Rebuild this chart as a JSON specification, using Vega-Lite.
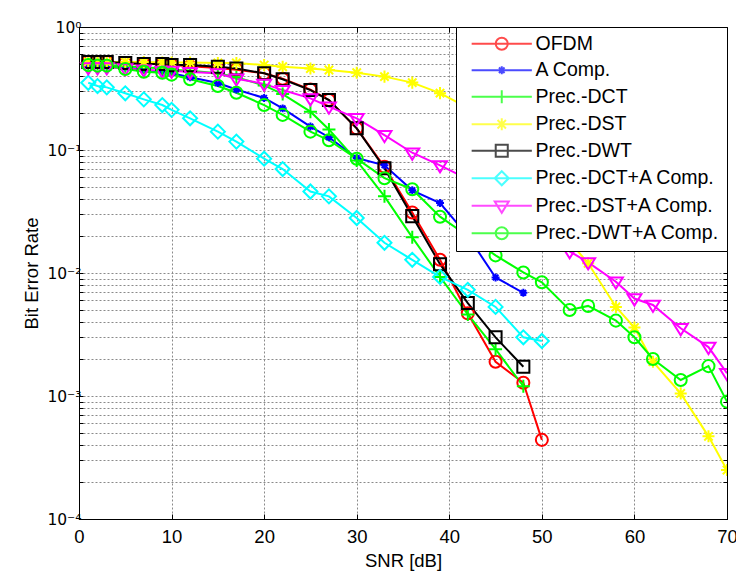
{
  "$schema": "https://vega.github.io/schema/vega-lite/v6.json",
  "width": 648,
  "height": 492,
  "autosize": {"type": "none"},
  "padding": {"left": 79, "top": 27, "right": 9, "bottom": 53},
  "background": "white",
  "config": {
    "view": {"stroke": "black", "strokeWidth": 1},
    "font": "Liberation Sans",
    "axis": {
      "domainColor": "black",
      "tickColor": "black",
      "labelColor": "black",
      "titleColor": "black",
      "labelFont": "Liberation Sans",
      "titleFont": "Liberation Sans",
      "labelFontSize": 18.5,
      "titleFontSize": 18.5,
      "titleFontWeight": "normal",
      "gridDash": [2, 2],
      "gridColor": "#8a8a8a",
      "gridWidth": 1,
      "gridOpacity": 1
    },
    "legend": {
      "orient": "top-right", "offset": 0, "padding": 7,
      "strokeColor": "black", "fillColor": "white",
      "labelFontSize": 19.5, "labelFont": "Liberation Sans", "labelColor": "black", "labelLimit": 400,
      "symbolSize": 196, "symbolStrokeWidth": 2, "symbolOffset": 29, "labelOffset": 24, "rowPadding": 5.5
    }
  },
  "data": {"values": [
    {"series":"OFDM","snr":1,"ber":0.52},{"series":"OFDM","snr":2,"ber":0.52},{"series":"OFDM","snr":3,"ber":0.52},{"series":"OFDM","snr":5,"ber":0.51},{"series":"OFDM","snr":7,"ber":0.50},{"series":"OFDM","snr":9,"ber":0.50},{"series":"OFDM","snr":10,"ber":0.49},{"series":"OFDM","snr":12,"ber":0.48},{"series":"OFDM","snr":15,"ber":0.465},{"series":"OFDM","snr":17,"ber":0.45},{"series":"OFDM","snr":20,"ber":0.42},{"series":"OFDM","snr":22,"ber":0.38},{"series":"OFDM","snr":25,"ber":0.31},{"series":"OFDM","snr":27,"ber":0.255},{"series":"OFDM","snr":30,"ber":0.15},{"series":"OFDM","snr":33,"ber":0.073},{"series":"OFDM","snr":36,"ber":0.031},{"series":"OFDM","snr":39,"ber":0.0128},{"series":"OFDM","snr":42,"ber":0.0047},{"series":"OFDM","snr":45,"ber":0.0019},{"series":"OFDM","snr":48,"ber":0.00128},{"series":"OFDM","snr":50,"ber":0.00044},

    {"series":"A Comp.","snr":1,"ber":0.50},{"series":"A Comp.","snr":2,"ber":0.49},{"series":"A Comp.","snr":3,"ber":0.48},{"series":"A Comp.","snr":5,"ber":0.47},{"series":"A Comp.","snr":7,"ber":0.45},{"series":"A Comp.","snr":9,"ber":0.43},{"series":"A Comp.","snr":10,"ber":0.42},{"series":"A Comp.","snr":12,"ber":0.39},{"series":"A Comp.","snr":15,"ber":0.35},{"series":"A Comp.","snr":17,"ber":0.31},{"series":"A Comp.","snr":20,"ber":0.265},{"series":"A Comp.","snr":22,"ber":0.218},{"series":"A Comp.","snr":25,"ber":0.155},{"series":"A Comp.","snr":27,"ber":0.127},{"series":"A Comp.","snr":30,"ber":0.086},{"series":"A Comp.","snr":33,"ber":0.075},{"series":"A Comp.","snr":36,"ber":0.047},{"series":"A Comp.","snr":39,"ber":0.037},{"series":"A Comp.","snr":42,"ber":0.02},{"series":"A Comp.","snr":45,"ber":0.0092},{"series":"A Comp.","snr":48,"ber":0.0069},

    {"series":"Prec.-DCT","snr":1,"ber":0.50},{"series":"Prec.-DCT","snr":2,"ber":0.50},{"series":"Prec.-DCT","snr":3,"ber":0.49},{"series":"Prec.-DCT","snr":5,"ber":0.48},{"series":"Prec.-DCT","snr":7,"ber":0.47},{"series":"Prec.-DCT","snr":9,"ber":0.46},{"series":"Prec.-DCT","snr":10,"ber":0.45},{"series":"Prec.-DCT","snr":12,"ber":0.44},{"series":"Prec.-DCT","snr":15,"ber":0.42},{"series":"Prec.-DCT","snr":17,"ber":0.39},{"series":"Prec.-DCT","snr":20,"ber":0.335},{"series":"Prec.-DCT","snr":22,"ber":0.285},{"series":"Prec.-DCT","snr":25,"ber":0.205},{"series":"Prec.-DCT","snr":27,"ber":0.147},{"series":"Prec.-DCT","snr":30,"ber":0.082},{"series":"Prec.-DCT","snr":33,"ber":0.042},{"series":"Prec.-DCT","snr":36,"ber":0.0195},{"series":"Prec.-DCT","snr":39,"ber":0.0093},{"series":"Prec.-DCT","snr":42,"ber":0.0046},{"series":"Prec.-DCT","snr":45,"ber":0.0024},{"series":"Prec.-DCT","snr":48,"ber":0.0012},

    {"series":"Prec.-DST","snr":1,"ber":0.52},{"series":"Prec.-DST","snr":2,"ber":0.52},{"series":"Prec.-DST","snr":3,"ber":0.52},{"series":"Prec.-DST","snr":5,"ber":0.52},{"series":"Prec.-DST","snr":7,"ber":0.52},{"series":"Prec.-DST","snr":9,"ber":0.515},{"series":"Prec.-DST","snr":10,"ber":0.515},{"series":"Prec.-DST","snr":12,"ber":0.515},{"series":"Prec.-DST","snr":15,"ber":0.51},{"series":"Prec.-DST","snr":17,"ber":0.51},{"series":"Prec.-DST","snr":20,"ber":0.49},{"series":"Prec.-DST","snr":22,"ber":0.475},{"series":"Prec.-DST","snr":25,"ber":0.46},{"series":"Prec.-DST","snr":27,"ber":0.447},{"series":"Prec.-DST","snr":30,"ber":0.425},{"series":"Prec.-DST","snr":33,"ber":0.395},{"series":"Prec.-DST","snr":36,"ber":0.353},{"series":"Prec.-DST","snr":39,"ber":0.29},{"series":"Prec.-DST","snr":42,"ber":0.22},{"series":"Prec.-DST","snr":45,"ber":0.14},{"series":"Prec.-DST","snr":48,"ber":0.07},{"series":"Prec.-DST","snr":50,"ber":0.042},{"series":"Prec.-DST","snr":53,"ber":0.018},{"series":"Prec.-DST","snr":55,"ber":0.012},{"series":"Prec.-DST","snr":58,"ber":0.0053},{"series":"Prec.-DST","snr":60,"ber":0.0036},{"series":"Prec.-DST","snr":62,"ber":0.0019},{"series":"Prec.-DST","snr":65,"ber":0.00105},{"series":"Prec.-DST","snr":68,"ber":0.00047},{"series":"Prec.-DST","snr":70,"ber":0.00025},

    {"series":"Prec.-DWT","snr":1,"ber":0.52},{"series":"Prec.-DWT","snr":2,"ber":0.52},{"series":"Prec.-DWT","snr":3,"ber":0.52},{"series":"Prec.-DWT","snr":5,"ber":0.51},{"series":"Prec.-DWT","snr":7,"ber":0.50},{"series":"Prec.-DWT","snr":9,"ber":0.50},{"series":"Prec.-DWT","snr":10,"ber":0.49},{"series":"Prec.-DWT","snr":12,"ber":0.49},{"series":"Prec.-DWT","snr":15,"ber":0.475},{"series":"Prec.-DWT","snr":17,"ber":0.46},{"series":"Prec.-DWT","snr":20,"ber":0.42},{"series":"Prec.-DWT","snr":22,"ber":0.376},{"series":"Prec.-DWT","snr":25,"ber":0.307},{"series":"Prec.-DWT","snr":27,"ber":0.255},{"series":"Prec.-DWT","snr":30,"ber":0.15},{"series":"Prec.-DWT","snr":33,"ber":0.071},{"series":"Prec.-DWT","snr":36,"ber":0.029},{"series":"Prec.-DWT","snr":39,"ber":0.0118},{"series":"Prec.-DWT","snr":42,"ber":0.0057},{"series":"Prec.-DWT","snr":45,"ber":0.0030},{"series":"Prec.-DWT","snr":48,"ber":0.00173},

    {"series":"Prec.-DCT+A Comp.","snr":1,"ber":0.352},{"series":"Prec.-DCT+A Comp.","snr":2,"ber":0.331},{"series":"Prec.-DCT+A Comp.","snr":3,"ber":0.323},{"series":"Prec.-DCT+A Comp.","snr":5,"ber":0.289},{"series":"Prec.-DCT+A Comp.","snr":7,"ber":0.258},{"series":"Prec.-DCT+A Comp.","snr":9,"ber":0.232},{"series":"Prec.-DCT+A Comp.","snr":10,"ber":0.212},{"series":"Prec.-DCT+A Comp.","snr":12,"ber":0.181},{"series":"Prec.-DCT+A Comp.","snr":15,"ber":0.141},{"series":"Prec.-DCT+A Comp.","snr":17,"ber":0.117},{"series":"Prec.-DCT+A Comp.","snr":20,"ber":0.085},{"series":"Prec.-DCT+A Comp.","snr":22,"ber":0.070},{"series":"Prec.-DCT+A Comp.","snr":25,"ber":0.046},{"series":"Prec.-DCT+A Comp.","snr":27,"ber":0.042},{"series":"Prec.-DCT+A Comp.","snr":30,"ber":0.028},{"series":"Prec.-DCT+A Comp.","snr":33,"ber":0.0176},{"series":"Prec.-DCT+A Comp.","snr":36,"ber":0.0128},{"series":"Prec.-DCT+A Comp.","snr":39,"ber":0.0093},{"series":"Prec.-DCT+A Comp.","snr":42,"ber":0.0073},{"series":"Prec.-DCT+A Comp.","snr":45,"ber":0.0053},{"series":"Prec.-DCT+A Comp.","snr":48,"ber":0.0030},{"series":"Prec.-DCT+A Comp.","snr":50,"ber":0.0028},

    {"series":"Prec.-DST+A Comp.","snr":1,"ber":0.47},{"series":"Prec.-DST+A Comp.","snr":2,"ber":0.47},{"series":"Prec.-DST+A Comp.","snr":3,"ber":0.47},{"series":"Prec.-DST+A Comp.","snr":5,"ber":0.46},{"series":"Prec.-DST+A Comp.","snr":7,"ber":0.45},{"series":"Prec.-DST+A Comp.","snr":9,"ber":0.44},{"series":"Prec.-DST+A Comp.","snr":10,"ber":0.44},{"series":"Prec.-DST+A Comp.","snr":12,"ber":0.43},{"series":"Prec.-DST+A Comp.","snr":15,"ber":0.42},{"series":"Prec.-DST+A Comp.","snr":17,"ber":0.38},{"series":"Prec.-DST+A Comp.","snr":20,"ber":0.345},{"series":"Prec.-DST+A Comp.","snr":22,"ber":0.307},{"series":"Prec.-DST+A Comp.","snr":25,"ber":0.263},{"series":"Prec.-DST+A Comp.","snr":27,"ber":0.225},{"series":"Prec.-DST+A Comp.","snr":30,"ber":0.181},{"series":"Prec.-DST+A Comp.","snr":33,"ber":0.132},{"series":"Prec.-DST+A Comp.","snr":36,"ber":0.095},{"series":"Prec.-DST+A Comp.","snr":39,"ber":0.075},{"series":"Prec.-DST+A Comp.","snr":42,"ber":0.058},{"series":"Prec.-DST+A Comp.","snr":45,"ber":0.042},{"series":"Prec.-DST+A Comp.","snr":48,"ber":0.030},{"series":"Prec.-DST+A Comp.","snr":50,"ber":0.023},{"series":"Prec.-DST+A Comp.","snr":53,"ber":0.015},{"series":"Prec.-DST+A Comp.","snr":55,"ber":0.0122},{"series":"Prec.-DST+A Comp.","snr":58,"ber":0.0085},{"series":"Prec.-DST+A Comp.","snr":60,"ber":0.0062},{"series":"Prec.-DST+A Comp.","snr":62,"ber":0.0055},{"series":"Prec.-DST+A Comp.","snr":65,"ber":0.00355},{"series":"Prec.-DST+A Comp.","snr":68,"ber":0.0025},{"series":"Prec.-DST+A Comp.","snr":70,"ber":0.00153},

    {"series":"Prec.-DWT+A Comp.","snr":1,"ber":0.49},{"series":"Prec.-DWT+A Comp.","snr":2,"ber":0.485},{"series":"Prec.-DWT+A Comp.","snr":3,"ber":0.485},{"series":"Prec.-DWT+A Comp.","snr":5,"ber":0.456},{"series":"Prec.-DWT+A Comp.","snr":7,"ber":0.433},{"series":"Prec.-DWT+A Comp.","snr":9,"ber":0.425},{"series":"Prec.-DWT+A Comp.","snr":10,"ber":0.41},{"series":"Prec.-DWT+A Comp.","snr":12,"ber":0.376},{"series":"Prec.-DWT+A Comp.","snr":15,"ber":0.331},{"series":"Prec.-DWT+A Comp.","snr":17,"ber":0.292},{"series":"Prec.-DWT+A Comp.","snr":20,"ber":0.232},{"series":"Prec.-DWT+A Comp.","snr":22,"ber":0.193},{"series":"Prec.-DWT+A Comp.","snr":25,"ber":0.141},{"series":"Prec.-DWT+A Comp.","snr":27,"ber":0.12},{"series":"Prec.-DWT+A Comp.","snr":30,"ber":0.085},{"series":"Prec.-DWT+A Comp.","snr":33,"ber":0.059},{"series":"Prec.-DWT+A Comp.","snr":36,"ber":0.048},{"series":"Prec.-DWT+A Comp.","snr":39,"ber":0.0287},{"series":"Prec.-DWT+A Comp.","snr":42,"ber":0.02},{"series":"Prec.-DWT+A Comp.","snr":45,"ber":0.0139},{"series":"Prec.-DWT+A Comp.","snr":48,"ber":0.0101},{"series":"Prec.-DWT+A Comp.","snr":50,"ber":0.0084},{"series":"Prec.-DWT+A Comp.","snr":53,"ber":0.005},{"series":"Prec.-DWT+A Comp.","snr":55,"ber":0.0054},{"series":"Prec.-DWT+A Comp.","snr":58,"ber":0.0041},{"series":"Prec.-DWT+A Comp.","snr":60,"ber":0.003},{"series":"Prec.-DWT+A Comp.","snr":62,"ber":0.002},{"series":"Prec.-DWT+A Comp.","snr":65,"ber":0.00135},{"series":"Prec.-DWT+A Comp.","snr":68,"ber":0.00175},{"series":"Prec.-DWT+A Comp.","snr":70,"ber":0.0009}
  ]},
  "layer": [
    {
      "mark": {"type": "line", "strokeWidth": 2, "clip": true},
      "encoding": {
        "x": {"field": "snr", "type": "quantitative",
          "scale": {"domain": [0, 70], "nice": false, "zero": false},
          "axis": {"orient": "bottom", "values": [0,10,20,30,40,50,60,70], "grid": true, "tickSize": -5, "labelPadding": 13, "title": "SNR [dB]", "titlePadding": 6, "labelFlush": false}},
        "y": {"field": "ber", "type": "quantitative",
          "scale": {"type": "log", "domain": [0.0001, 1], "nice": false},
          "axis": {"orient": "left", "grid": true, "tickSize": -4,
            "values": [0.0001,0.0002,0.0003,0.0004,0.0005,0.0006,0.0007,0.0008,0.0009,0.001,0.002,0.003,0.004,0.005,0.006,0.007,0.008,0.009,0.01,0.02,0.03,0.04,0.05,0.06,0.07,0.08,0.09,0.1,0.2,0.3,0.4,0.5,0.6,0.7,0.8,0.9,1],
            "labelExpr": "abs(log(datum.value)/LN10 - round(log(datum.value)/LN10)) > 0.001 ? '' : (round(log(datum.value)/LN10) == 0 ? '10⁰' : round(log(datum.value)/LN10) == -1 ? '10⁻¹' : round(log(datum.value)/LN10) == -2 ? '10⁻²' : round(log(datum.value)/LN10) == -3 ? '10⁻³' : '10⁻⁴')",
            "labelFont": "DejaVu Sans", "labelFontSize": 15.5,
            "labelPadding": 2, "labelFlush": false, "title": "Bit Error Rate", "titleX": -38}},
        "color": {"field": "series", "type": "nominal", "legend": null,
          "scale": {"domain": ["OFDM","A Comp.","Prec.-DCT","Prec.-DST","Prec.-DWT","Prec.-DCT+A Comp.","Prec.-DST+A Comp.","Prec.-DWT+A Comp."],
                    "range": ["#ff0000","#0000ff","#00ff00","#ffff00","#000000","#00ffff","#ff00ff","#00ff00"]}}
      }
    },
    {
      "mark": {"type": "point", "filled": false, "strokeWidth": 2, "size": 196, "opacity": 1, "clip": true},
      "encoding": {
        "x": {"field": "snr", "type": "quantitative", "axis": null},
        "y": {"field": "ber", "type": "quantitative", "axis": null},
        "color": {"field": "series", "type": "nominal", "legend": null,
          "scale": {"domain": ["OFDM","A Comp.","Prec.-DCT","Prec.-DST","Prec.-DWT","Prec.-DCT+A Comp.","Prec.-DST+A Comp.","Prec.-DWT+A Comp."],
                    "range": ["#ff0000","#0000ff","#00ff00","#ffff00","#000000","#00ffff","#ff00ff","#00ff00"]}},
        "shape": {"field": "series", "type": "nominal", "legend": null,
          "scale": {"domain": ["OFDM","A Comp.","Prec.-DCT","Prec.-DST","Prec.-DWT","Prec.-DCT+A Comp.","Prec.-DST+A Comp.","Prec.-DWT+A Comp."],
                    "range": [
                      "M0.86,0A0.86,0.86,0,1,1,-0.86,0A0.86,0.86,0,1,1,0.86,0Z",
                      "M-0.57,0H0.57M0,-0.57V0.57M-0.4,-0.4L0.4,0.4M-0.4,0.4L0.4,-0.4",
                      "M-0.93,0H0.93M0,-0.93V0.93",
                      "M-0.86,0H0.86M0,-0.86V0.86M-0.6,-0.6L0.6,0.6M-0.6,0.6L0.6,-0.6",
                      "M-0.86,-0.86H0.86V0.86H-0.86Z",
                      "M-1,0L0,-1L1,0L0,1Z",
                      "M-1,-0.6H1L0,1Z",
                      "M0.86,0A0.86,0.86,0,1,1,-0.86,0A0.86,0.86,0,1,1,0.86,0Z"
                    ]}}
      }
    },
    {
      "mark": {"type": "point", "opacity": 0},
      "encoding": {
        "x": {"field": "snr", "type": "quantitative",
          "axis": {"orient": "top", "values": [0,10,20,30,40,50,60,70], "grid": false, "labels": false, "tickSize": -5, "title": null}},
        "y": {"field": "ber", "type": "quantitative",
          "axis": {"orient": "right", "grid": false, "labels": false, "tickSize": -4, "title": null,
            "values": [0.0001,0.0002,0.0003,0.0004,0.0005,0.0006,0.0007,0.0008,0.0009,0.001,0.002,0.003,0.004,0.005,0.006,0.007,0.008,0.009,0.01,0.02,0.03,0.04,0.05,0.06,0.07,0.08,0.09,0.1,0.2,0.3,0.4,0.5,0.6,0.7,0.8,0.9,1]}}
      }
    },
    {
      "transform": [{"filter": "datum.snr < 0"}],
      "mark": {"type": "point", "filled": false, "strokeWidth": 2, "size": 196},
      "encoding": {
        "x": {"field": "snr", "type": "quantitative", "axis": null},
        "y": {"field": "ber", "type": "quantitative", "axis": null},
        "color": {"field": "series", "type": "nominal",
          "legend": {"title": null},
          "scale": {"domain": ["OFDM","A Comp.","Prec.-DCT","Prec.-DST","Prec.-DWT","Prec.-DCT+A Comp.","Prec.-DST+A Comp.","Prec.-DWT+A Comp."],
                    "range": ["#ff0000","#0000ff","#00ff00","#ffff00","#000000","#00ffff","#ff00ff","#00ff00"]}},
        "shape": {"field": "series", "type": "nominal",
          "legend": {"title": null},
          "scale": {"domain": ["OFDM","A Comp.","Prec.-DCT","Prec.-DST","Prec.-DWT","Prec.-DCT+A Comp.","Prec.-DST+A Comp.","Prec.-DWT+A Comp."],
                    "range": [
                      "M-4.3,0H4.3M0.86,0A0.86,0.86,0,1,1,-0.86,0A0.86,0.86,0,1,1,0.86,0Z",
                      "M-4.3,0H4.3M0,-0.57V0.57M-0.4,-0.4L0.4,0.4M-0.4,0.4L0.4,-0.4",
                      "M-4.3,0H4.3M0,-0.93V0.93",
                      "M-4.3,0H4.3M0,-0.86V0.86M-0.6,-0.6L0.6,0.6M-0.6,0.6L0.6,-0.6",
                      "M-4.3,0H4.3M-0.86,-0.86H0.86V0.86H-0.86Z",
                      "M-4.3,0H4.3M-1,0L0,-1L1,0L0,1Z",
                      "M-4.3,0H4.3M-1,-0.6H1L0,1Z",
                      "M-4.3,0H4.3M0.86,0A0.86,0.86,0,1,1,-0.86,0A0.86,0.86,0,1,1,0.86,0Z"
                    ]}}
      }
    }
  ],
  "resolve": {
    "axis": {"x": "independent", "y": "independent"},
    "scale": {"color": "independent", "shape": "independent"}
  }
}
